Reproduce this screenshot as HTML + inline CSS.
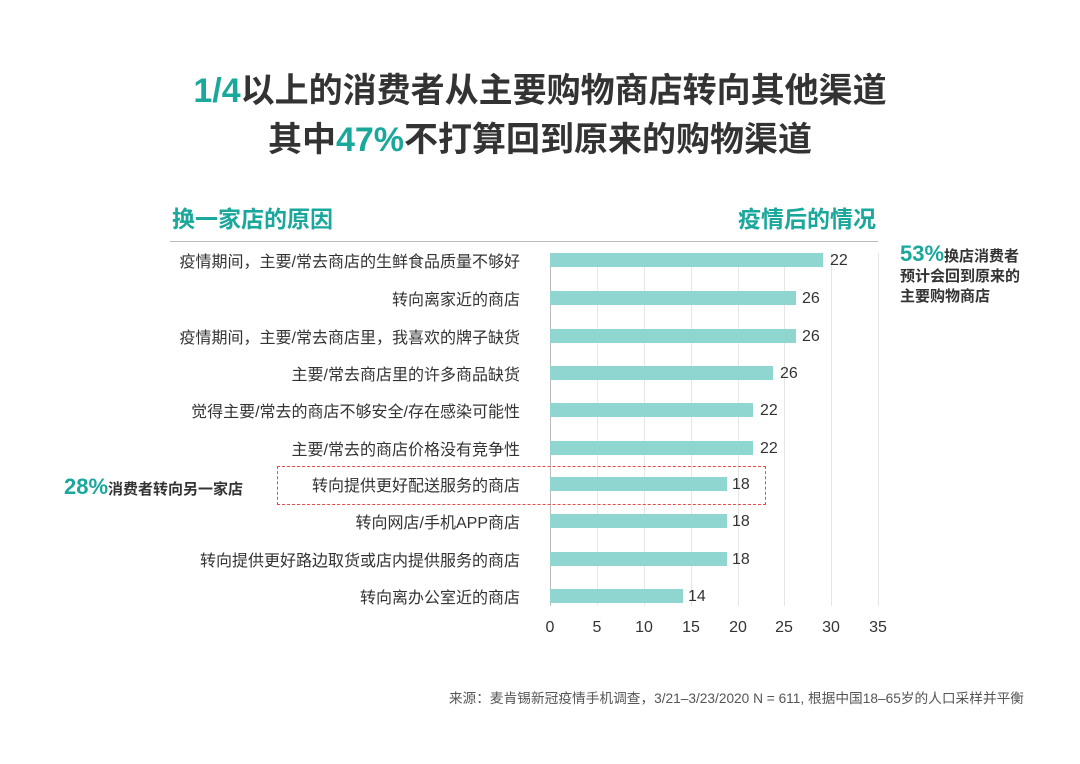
<!DOCTYPE html>
<html><head><meta charset="utf-8"><style>
body{margin:0;background:#fff;width:1080px;height:764px;position:relative;overflow:hidden;font-family:"Liberation Sans","Noto Sans CJK SC",sans-serif;color:#333}
.a{position:absolute;white-space:nowrap}
.t{font-size:34px;font-weight:bold;color:#333;left:0;width:1080px;text-align:center}
.g{color:#1aa79c}
.lab{right:560px;font-size:16px;color:#333;text-align:right}
.bar{position:absolute;left:550px;height:14px;background:#8fd5d0}
.val{font-size:16px;color:#333}
.grid{position:absolute;top:253px;height:353px;width:1px;background:#e6e6e6}
.tick{font-size:16px;color:#333;top:619px;width:30px;text-align:center}
</style></head><body>
<div class="a t" style="top:63px"><span class="g">1/4</span>以上的消费者从主要购物商店转向其他渠道</div>
<div class="a t" style="top:112px">其中<span class="g">47%</span>不打算回到原来的购物渠道</div>
<div class="a g" style="left:172px;top:200px;font-size:23px;font-weight:bold">换一家店的原因</div>
<div class="a g" style="left:738px;top:200px;font-size:23px;font-weight:bold">疫情后的情况</div>
<div class="a" style="left:170px;top:241px;width:708px;height:1px;background:#bbb"></div>
<div class="grid" style="left:597px"></div><div class="grid" style="left:644px"></div><div class="grid" style="left:691px"></div><div class="grid" style="left:738px"></div><div class="grid" style="left:784px"></div><div class="grid" style="left:831px"></div><div class="grid" style="left:878px"></div>
<div class="a" style="left:550px;top:253px;width:1px;height:353px;background:#bbb"></div>

<div class="bar" style="top:253px;width:273px"></div><div class="a val" style="left:830px;top:252px">22</div>
<div class="bar" style="top:291px;width:246px"></div><div class="a val" style="left:802px;top:290px">26</div>
<div class="bar" style="top:329px;width:246px"></div><div class="a val" style="left:802px;top:328px">26</div>
<div class="bar" style="top:366px;width:223px"></div><div class="a val" style="left:780px;top:365px">26</div>
<div class="bar" style="top:403px;width:203px"></div><div class="a val" style="left:760px;top:402px">22</div>
<div class="bar" style="top:441px;width:203px"></div><div class="a val" style="left:760px;top:440px">22</div>
<div class="bar" style="top:477px;width:177px"></div><div class="a val" style="left:732px;top:476px">18</div>
<div class="bar" style="top:514px;width:177px"></div><div class="a val" style="left:732px;top:513px">18</div>
<div class="bar" style="top:552px;width:177px"></div><div class="a val" style="left:732px;top:551px">18</div>
<div class="bar" style="top:589px;width:133px"></div><div class="a val" style="left:688px;top:588px">14</div>

<div class="a lab" style="top:248px">疫情期间，主要/常去商店的生鲜食品质量不够好</div>
<div class="a lab" style="top:286px">转向离家近的商店</div>
<div class="a lab" style="top:324px">疫情期间，主要/常去商店里，我喜欢的牌子缺货</div>
<div class="a lab" style="top:361px">主要/常去商店里的许多商品缺货</div>
<div class="a lab" style="top:398px">觉得主要/常去的商店不够安全/存在感染可能性</div>
<div class="a lab" style="top:436px">主要/常去的商店价格没有竞争性</div>
<div class="a lab" style="top:472px">转向提供更好配送服务的商店</div>
<div class="a lab" style="top:509px">转向网店/手机APP商店</div>
<div class="a lab" style="top:547px">转向提供更好路边取货或店内提供服务的商店</div>
<div class="a lab" style="top:584px">转向离办公室近的商店</div>

<div class="a" style="left:277px;top:466px;width:487px;height:37px;border:1px dashed #e94b4b"></div>
<div class="a" style="left:64px;top:474px;font-size:15px;font-weight:bold;color:#333"><span class="g" style="font-size:22px">28%</span>消费者转向另一家店</div>
<div class="a" style="left:900px;top:244px;font-size:15px;font-weight:bold;color:#333;line-height:20px"><span class="g" style="font-size:22px">53%</span>换店消费者<br>预计会回到原来的<br>主要购物商店</div>

<div class="a tick" style="left:535px">0</div><div class="a tick" style="left:582px">5</div><div class="a tick" style="left:629px">10</div><div class="a tick" style="left:676px">15</div><div class="a tick" style="left:723px">20</div><div class="a tick" style="left:769px">25</div><div class="a tick" style="left:816px">30</div><div class="a tick" style="left:863px">35</div>

<div class="a" style="right:56px;top:687px;font-size:13.7px;color:#555">来源：麦肯锡新冠疫情手机调查，3/21–3/23/2020 N = 611, 根据中国18–65岁的人口采样并平衡</div>
</body></html>
